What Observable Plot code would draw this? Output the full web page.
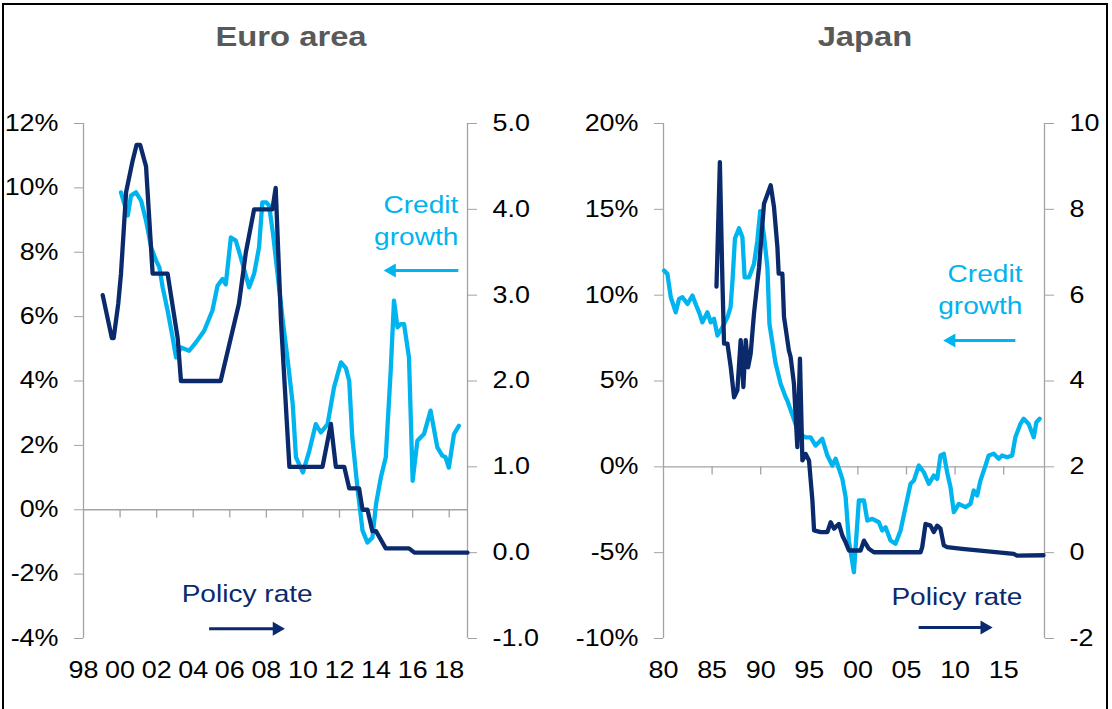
<!DOCTYPE html>
<html>
<head>
<meta charset="utf-8">
<script src="https://cdn.jsdelivr.net/npm/d3@7"></script>
<script src="https://cdn.jsdelivr.net/npm/@observablehq/plot@0.6"></script>
<style>
  html, body { margin: 0; padding: 0; background: #fff; }
  #root { position: relative; width: 1112px; height: 709px; overflow: hidden; font-family: "Liberation Sans", Arial, sans-serif; }
  .frame { position: absolute; left: 2px; top: 3px; width: 1106px; height: 720px; border: 2px solid #000; box-sizing: border-box; }
  .panel { position: absolute; top: 0; width: 556px; height: 709px; }
  .title { position: absolute; top: 20px; height: 34px; line-height: 34px; font-weight: bold; font-size: 28px; color: #595959; white-space: nowrap; transform: translateX(-50%) scaleX(1.17); }
  svg { position: absolute; left: 0; top: 0; }
</style>
</head>
<body>
<div id="root">
  <div class="frame"></div>
</div>
<script>
// ---------------- DATA ----------------
// Euro area: credit growth (% y/y, left axis)
const euroCreditYear = [2000.05,2000.42,2000.6,2000.87,2001.15,2001.42,2001.7,2001.97,2002.15,2002.33,2002.6,2002.87,2003.06,2003.33,2003.78,2004.15,2004.6,2005.05,2005.33,2005.6,2005.78,2006.06,2006.33,2006.6,2007.06,2007.33,2007.6,2007.78,2008.0,2008.15,2008.37,2008.9,2009.17,2009.44,2009.62,2010.0,2010.35,2010.7,2010.98,2011.35,2011.7,2012.08,2012.35,2012.53,2012.7,2012.98,2013.26,2013.53,2013.8,2014.0,2014.26,2014.53,2014.8,2014.98,2015.17,2015.35,2015.53,2015.8,2016.0,2016.26,2016.62,2016.98,2017.35,2017.62,2017.8,2017.98,2018.26,2018.53];
const euroCredit = [9.86,9.14,9.76,9.86,9.6,8.98,8.15,7.74,7.53,6.91,6.19,5.36,4.73,5.04,4.94,5.2,5.56,6.19,6.96,7.17,7.0,8.46,8.36,7.84,6.91,7.33,8.15,9.55,9.55,9.45,8.55,5.87,4.63,3.29,1.63,1.16,1.83,2.66,2.4,2.66,3.8,4.58,4.4,4.01,2.25,0.69,-0.65,-1.02,-0.86,0.18,1.0,1.63,4.32,6.5,5.67,5.77,5.77,4.73,0.9,2.14,2.35,3.08,1.94,1.68,1.63,1.31,2.35,2.61];
// Euro area: policy rate (%, right axis)
const euroRateYear = [1999.05,1999.55,1999.65,1999.9,2000.05,2000.33,2000.69,2000.9,2001.1,2001.42,2001.78,2002.6,2003.15,2003.33,2005.5,2006.5,2006.88,2007.33,2008.33,2008.51,2008.8,2009.26,2011.07,2011.53,2011.8,2012.26,2012.53,2013.07,2013.26,2013.53,2013.8,2014.0,2014.53,2015.8,2016.1,2019.0];
const euroRate = [3.0,2.5,2.5,2.9,3.25,4.2,4.57,4.75,4.75,4.5,3.25,3.25,2.5,2.0,2.0,2.9,3.5,4.0,4.0,4.25,2.7,1.0,1.0,1.5,1.0,1.0,0.75,0.75,0.5,0.5,0.25,0.25,0.05,0.05,0.0,0.0];

// Japan: credit growth (% y/y, left axis)
const japanCreditYear = [1980.06,1980.4,1980.75,1981.26,1981.6,1981.95,1982.47,1982.98,1983.3,1983.66,1984.0,1984.52,1984.86,1985.2,1985.55,1986.06,1986.58,1986.9,1987.1,1987.35,1987.77,1988.12,1988.35,1988.8,1989.31,1989.66,1989.95,1990.34,1990.69,1990.9,1991.54,1992.06,1992.57,1992.74,1993.94,1994.62,1995.14,1995.65,1996.34,1996.86,1997.37,1997.71,1998.4,1998.74,1999.07,1999.59,2000.1,2000.62,2000.97,2001.48,2002.16,2002.5,2002.85,2003.36,2003.87,2004.39,2004.9,2005.42,2005.76,2006.27,2006.78,2007.3,2007.81,2008.16,2008.5,2008.84,2009.18,2009.53,2009.87,2010.38,2011.07,2011.58,2011.92,2012.27,2012.61,2013.13,2013.46,2013.98,2014.49,2014.84,2015.35,2015.87,2016.2,2016.72,2017.06,2017.57,2018.09,2018.37,2018.7];
const japanCredit = [11.43,11.24,9.88,9.0,9.78,9.88,9.49,9.98,9.49,9.0,8.42,9.0,8.42,8.62,7.65,8.13,8.71,9.3,10.85,13.3,13.9,13.37,11.04,11.04,11.82,13.18,14.9,13.47,11.63,8.33,6.0,4.83,4.05,3.86,1.92,1.72,1.72,1.24,1.63,0.66,0.08,0.47,-0.7,-1.77,-4.29,-6.14,-1.96,-1.96,-3.13,-3.03,-3.23,-3.71,-3.52,-4.29,-4.48,-3.71,-2.35,-0.99,-0.8,0.08,-0.31,-0.99,-0.51,-0.7,0.66,0.76,-0.31,-1.19,-2.64,-2.16,-2.35,-2.16,-1.38,-1.67,-0.8,0.08,0.66,0.76,0.47,0.66,0.56,0.66,1.72,2.5,2.8,2.5,1.72,2.6,2.8];
// Japan: policy rate (%, right axis)
const japanRateYear = [1985.45,1985.55,1985.8,1986.06,1986.23,1986.58,1986.92,1987.26,1987.6,1987.94,1988.22,1988.46,1988.7,1988.97,1989.31,1989.83,1990.34,1991.03,1991.37,1991.72,1991.85,1992.23,1992.4,1992.9,1993.08,1993.42,1993.77,1994.04,1994.29,1994.63,1994.97,1995.32,1995.49,1996.17,1996.86,1997.2,1997.54,1998.05,1998.4,1998.74,1999.08,2000.28,2000.62,2001.13,2001.65,2006.45,2006.62,2006.96,2007.47,2007.81,2008.16,2008.5,2008.84,2009.18,2010.73,2016.03,2016.37,2019.1];
const japanRate = [6.2,7.0,9.1,6.34,4.87,4.87,4.32,3.62,3.78,4.95,3.86,4.95,4.32,4.64,5.57,6.65,8.13,8.56,8.05,7.12,6.5,6.5,5.49,4.71,4.56,3.94,2.46,4.52,2.15,2.3,2.15,1.22,0.52,0.48,0.48,0.71,0.56,0.67,0.4,0.24,0.05,0.05,0.28,0.09,0.01,0.01,0.13,0.67,0.63,0.48,0.63,0.56,0.17,0.13,0.09,-0.03,-0.07,-0.06];

// Tick labels
const euroXTicks = [1998,2000,2002,2004,2006,2008,2010,2012,2014,2016,2018];
const euroLeftTicks = [-4,-2,0,2,4,6,8,10,12];
const euroRightTicks = [-1,0,1,2,3,4,5];
const japanXTicks = [1980,1985,1990,1995,2000,2005,2010,2015];
const japanLeftTicks = [-10,-5,0,5,10,15,20];
const japanRightTicks = [-2,0,2,4,6,8,10];

// Annotations (label text and anchor in data units)
const euroNotes = {credit: {x: 2018.5, y: 9.05, x1: 2018.5, x2: 2014.53, ya: 7.43},
                   policy: {x: 2006.95, y: -2.64, x1: 2004.87, x2: 2008.9, ya: -3.7}};
const japanNotes = {credit: {x: 2016.93, y: 10.44, x1: 2016.2, x2: 2009.0, ya: 7.36},
                    policy: {x: 2016.93, y: -7.61, x1: 2006.25, x2: 2013.65, ya: -9.36}};

// ---------------- STYLE ----------------
const CYAN = "#00b4ef";
const NAVY = "#0a2a6c";
const GREY = "#a3a3a3";
const FONT = "'Liberation Sans', Arial, sans-serif";

function stretchText(svg, k) {
  svg.querySelectorAll("text").forEach(t => {
    const x = +t.getAttribute("x") || 0, y = +t.getAttribute("y") || 0;
    const tr = t.getAttribute("transform") || "";
    t.setAttribute("transform", `${tr} translate(${x},${y}) scale(${k},1) translate(${-x},${-y})`);
  });
}

function panel({left, marginLeft, marginRight, xDomain, yDomain, xTicks, leftTicks, rightTicks,
                toLeft, fromLeft, rightFmt, credit, rate, notes, tickLen}) {
  const creditData = credit.year.map((d, i) => ({x: d, y: credit.v[i]}));
  const rateData = rate.year.map((d, i) => ({x: d, y: toLeft(rate.v[i])}));
  const svg = Plot.plot({
    width: 556, height: 709,
    marginLeft, marginRight, marginTop: 123, marginBottom: 71,
    style: {fontFamily: FONT, fontSize: "23px", background: "transparent", overflow: "visible"},
    x: {domain: xDomain},
    y: {domain: yDomain},
    marks: [
      Plot.ruleY([0], {stroke: GREY, strokeWidth: 1.3}),
      Plot.ruleX([xDomain[0], xDomain[1]], {y1: yDomain[0], y2: yDomain[1], stroke: GREY, strokeWidth: 1.3}),
      Plot.ruleX(xTicks.slice(1), {y1: 0, y2: -tickLen, stroke: GREY, strokeWidth: 1.3}),
      Plot.axisX(xTicks, {anchor: "bottom", tickSize: 0, tickPadding: 23, fill: "#000", fontSize: 23,
                          tickFormat: d => String(d).slice(2)}),
      Plot.axisY(leftTicks, {anchor: "left", tickSize: 9, tickPadding: 16, stroke: GREY, fill: "#000", fontSize: 23,
                             tickFormat: d => `${d}%`}),
      Plot.axisY(rightTicks.map(toLeft), {anchor: "right", tickSize: 9, tickPadding: 16, stroke: GREY, fill: "#000", fontSize: 23,
                             tickFormat: d => rightFmt(fromLeft(d))}),
      Plot.lineY(creditData, {x: "x", y: "y", stroke: CYAN, strokeWidth: 4.3, strokeLinejoin: "round"}),
      Plot.lineY(rateData, {x: "x", y: "y", stroke: NAVY, strokeWidth: 4.3, strokeLinejoin: "round"}),
      // annotations
      Plot.text([notes.credit], {x: "x", y: "y", text: () => "Credit\ngrowth", fill: CYAN, fontSize: 24,
                                 textAnchor: "end", lineAnchor: "middle", lineHeight: 1.34}),
      Plot.link([notes.credit], {x1: "x1", x2: d => d.x2 + (d.x1 > d.x2 ? 1 : -1) * (xDomain[1]-xDomain[0]) * 0.02,
                                 y1: "ya", y2: "ya", stroke: CYAN, strokeWidth: 3}),
      Plot.dot([notes.credit], {x: "x2", y: "ya", symbol: "triangle", r: 5.2, fill: CYAN, stroke: null,
                                rotate: -90, dx: 6}),
      Plot.text([notes.policy], {x: "x", y: "y", text: () => "Policy rate", fill: NAVY, fontSize: 24,
                                 textAnchor: notes.policyAnchor || "middle", lineAnchor: "middle"}),
      Plot.link([notes.policy], {x1: "x1", x2: d => d.x2 - (xDomain[1]-xDomain[0]) * 0.02,
                                 y1: "ya", y2: "ya", stroke: NAVY, strokeWidth: 3}),
      Plot.dot([notes.policy], {x: "x2", y: "ya", symbol: "triangle", r: 5.2, fill: NAVY, stroke: null,
                                rotate: 90, dx: -6})
    ]
  });
  stretchText(svg, 1.17);
  const div = document.createElement("div");
  div.className = "panel";
  div.style.left = left + "px";
  div.appendChild(svg);
  return div;
}

const root = document.getElementById("root");

const euroToLeft = r => -4 + (r + 1) * 16 / 6;
const euroFromLeft = v => (v + 4) * 6 / 16 - 1;
root.appendChild(panel({
  left: 0, marginLeft: 83, marginRight: 89,
  xDomain: [1998, 2019], yDomain: [-4, 12],
  xTicks: euroXTicks, leftTicks: euroLeftTicks, rightTicks: euroRightTicks,
  toLeft: euroToLeft, fromLeft: euroFromLeft,
  rightFmt: v => { const r = Math.round(v * 10) / 10; return (r < 0 ? "-" : "") + Math.abs(r).toFixed(1); },
  credit: {year: euroCreditYear, v: euroCredit}, rate: {year: euroRateYear, v: euroRate},
  notes: euroNotes, tickLen: 0.26
}));

const japanToLeft = r => -10 + (r + 2) * 2.5;
const japanFromLeft = v => (v + 10) / 2.5 - 2;
japanNotes.policyAnchor = "end";
root.appendChild(panel({
  left: 556, marginLeft: 107, marginRight: 68,
  xDomain: [1980, 2019.2], yDomain: [-10, 20],
  xTicks: japanXTicks, leftTicks: japanLeftTicks, rightTicks: japanRightTicks,
  toLeft: japanToLeft, fromLeft: japanFromLeft,
  rightFmt: v => { const r = Math.round(v); return (r < 0 ? "-" : "") + Math.abs(r); },
  credit: {year: japanCreditYear, v: japanCredit}, rate: {year: japanRateYear, v: japanRate},
  notes: japanNotes, tickLen: 0.48
}));

// Titles
[["Euro area", 291], ["Japan", 865]].forEach(([t, cx]) => {
  const d = document.createElement("div");
  d.className = "title";
  d.style.left = cx + "px";
  d.textContent = t;
  root.appendChild(d);
});
</script>
</body>
</html>
